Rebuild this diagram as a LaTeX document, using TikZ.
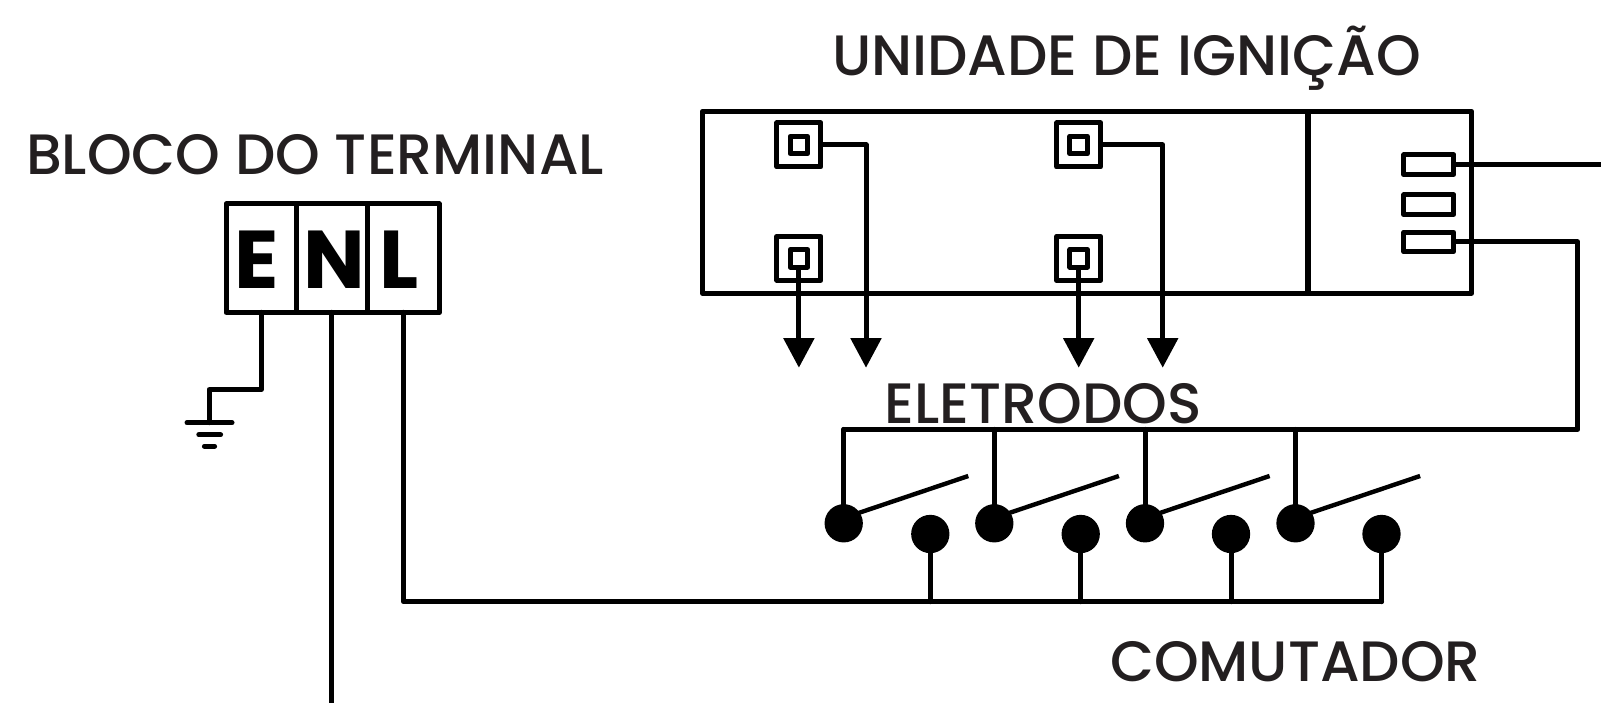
\documentclass[tikz,border=0pt]{standalone}
\usepackage{fontspec}
\setmainfont{Poppins}
\newfontfamily\medfont{Poppins Medium}
\usetikzlibrary{arrows.meta,calc}
\definecolor{labelc}{HTML}{231F20}
\tikzset{
  wire/.style={line width=5pt,line join=round,line cap=round,draw=black},
  arrowwire/.style={wire,line cap=butt,-{Triangle[width=30pt,length=29.5pt]}},
  boxc/.style={draw=black,line width=5pt,line join=round,rectangle,inner sep=0pt,outer sep=0pt,fill=none},
  outerpad/.style={boxc,minimum width=44pt,minimum height=44pt},
  innerpad/.style={boxc,minimum width=17.5pt,minimum height=17.5pt},
  pin/.style={boxc,minimum width=50pt,minimum height=19.5pt},
  cell/.style={boxc,minimum height=108.3pt},
  contact/.style={circle,fill=black,draw=none,minimum size=38.3pt,inner sep=0pt,outer sep=0pt},
  title/.style={text=labelc,font=\medfont\fontsize{56.9pt}{56.9pt}\selectfont,anchor=base,inner sep=0pt},
  term/.style={text=black,font=\fontsize{82pt}{82pt}\selectfont\bfseries,inner sep=0pt,anchor=base},
}
\begin{document}
\begin{tikzpicture}[x=1pt,y=-1pt]
\useasboundingbox (0,0) rectangle (1601,703);
% titles
\node[title] (tu) at (1126.5,76) {UNIDADE DE IGNIÇÃO};
\node[title] (tb) at (315,175) {BLOCO DO TERMINAL};
\node[title] (te) at (1043,423.4) {ELETRODOS};
\node[title] (tc) at (1295.5,681.5) {COMUTADOR};
% terminal block
\node[cell,minimum width=70.3pt] (cE) at (261.15,258.15) {};
\node[cell,minimum width=71pt] (cN) at (331.8,258.15) {};
\node[cell,minimum width=72pt] (cL) at (403.3,258.15) {};
\node[term] (lE) at (257,289) {E};
\node[term] (lN) at (334.5,289) {N};
\node[term] (lL) at (399,289) {L};
% ignition unit
\node[boxc,minimum width=605.5pt,minimum height=181.7pt] (uA) at (1005,202.2) {};
\node[boxc,minimum width=163.7pt,minimum height=181.7pt] (uB) at (1389.85,202.2) {};
\foreach \n/\x/\y in {a/798.9/145,b/798.9/258.3,c/1078.7/145,d/1078.7/258.3}{
  \node[outerpad] (o\n) at (\x,\y) {};
  \node[innerpad] (i\n) at (\x,\y) {};
}
\node[pin] (p1) at (1428.8,164.7) {};
\node[pin] (p2) at (1428.8,204.7) {};
\node[pin] (p3) at (1428.8,242) {};
% arrow ends
\coordinate (a1) at (798.9,367.7);
\coordinate (a2) at (866,367.7);
\coordinate (a3) at (1078.7,367.7);
\coordinate (a4) at (1162.7,367.7);
\draw[arrowwire] (ib.south) -- (a1);
\draw[arrowwire] (oa.east) -| (a2);
\draw[arrowwire] (id.south) -- (a3);
\draw[arrowwire] (oc.east) -| (a4);
% contacts
\foreach \n/\x in {1/843.7,2/994.3,3/1145,4/1295.5}{
  \node[contact] (s\n) at (\x,523.3) {};
  \coordinate (t\n) at (\x,429.4);
  \coordinate (b\n) at ($(\x,476)+(124.6,0)$);
  \coordinate (h\n) at ($(\x,518)$);
  \draw[wire] (t\n) -- (s\n.center);
  \draw[wire,line width=4.4pt,line cap=butt] (h\n) -- (b\n);
}
\foreach \n/\x in {1/930.3,2/1080.7,3/1231,4/1381.5}{
  \node[contact] (r\n) at (\x,534) {};
  \coordinate (f\n) at (\x,601.7);
  \draw[wire] (r\n.center) -- (f\n);
}
% right wires
\coordinate (x1) at (1601,164.7);
\coordinate (xb) at (1577.7,429.4);
\draw[wire,line cap=butt] (p1.east) -- (x1);
\draw[wire] (p3.east) -| (xb) -- (t1);
% terminal wires
\coordinate (g1) at (209,389.7);
\coordinate (g2) at (209,422.7);
\coordinate (nEnd) at (331.3,703);
\draw[wire] (cE.south) |- (g1) -- (g2);
\draw[wire] (nEnd-|cN.south) -- (cN.south);
\draw[wire] (cL.south) |- (f4);
% ground
\coordinate (g1l) at (187,422.7); \coordinate (g1r) at (232,422.7);
\coordinate (g2l) at (198.8,434.7); \coordinate (g2r) at (220.6,434.7);
\coordinate (g3l) at (204.4,446.3); \coordinate (g3r) at (214.6,446.3);
\draw[wire] (g1l) -- (g1r);
\draw[wire] (g2l) -- (g2r);
\draw[wire] (g3l) -- (g3r);
\end{tikzpicture}
\end{document}
